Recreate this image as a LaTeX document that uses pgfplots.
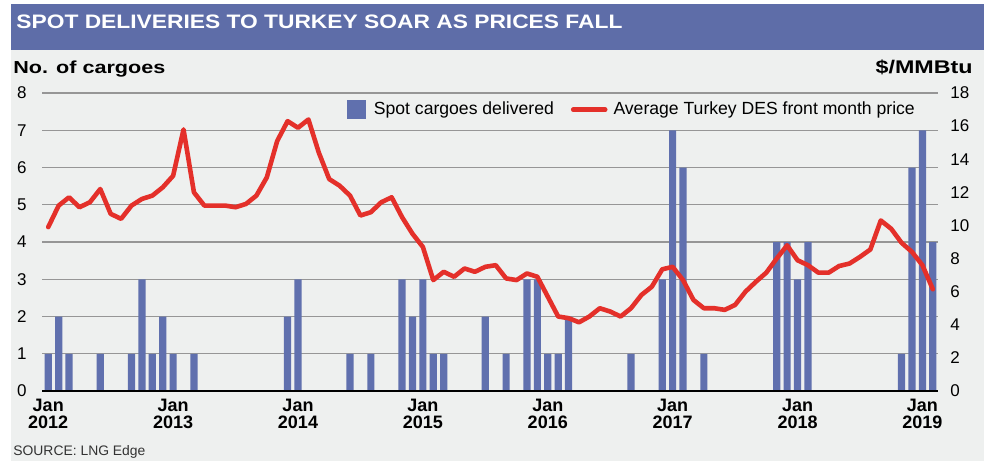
\documentclass[border=0pt]{standalone}
\usepackage{pgfplots}
\pgfplotsset{compat=1.18}
\usepackage{fontspec}
\setmainfont{Liberation Sans}
\definecolor{bandblue}{HTML}{5E6DA8}
\definecolor{barblue}{HTML}{6070AE}
\definecolor{linered}{HTML}{E4302A}
\definecolor{bggray}{HTML}{EEF0EF}
\definecolor{gridgray}{HTML}{969696}
\begin{document}
\begin{tikzpicture}
% background (1px = 0.5pt, origin at top-left, y downward negative)
\fill[white] (0pt,0pt) rectangle (492pt,-230.5pt);
\fill[bggray] (5.5pt,-25pt) rectangle (492pt,-230.5pt);
\fill[bandblue] (5.5pt,-2pt) rectangle (492pt,-25pt);
\node[anchor=base west, text=white, inner sep=0pt] at (8pt,-14.3pt) {\resizebox{303pt}{6.8pt}{\bfseries SPOT DELIVERIES TO TURKEY SOAR AS PRICES FALL}};
\node[anchor=base west, inner sep=0pt] at (6.5pt,-36.5pt) {\resizebox{76pt}{6.3pt}{\bfseries No. of cargoes}};
\node[anchor=base east, inner sep=0pt] at (486.5pt,-36.5pt) {\resizebox{48.5pt}{6.8pt}{\bfseries \$/MMBtu}};
\node[anchor=base west, inner sep=0pt, text=black!80] at (6.5pt,-227.5pt) {\resizebox{66pt}{5pt}{SOURCE: LNG Edge}};

\begin{axis}[
  at={(21pt,-195.5pt)}, anchor=south west,
  scale only axis, width=448pt, height=149pt,
  xmin=-0.6, xmax=85.5, ymin=0, ymax=8,
  ytick={0,1,...,8},
  xtick={0,12,24,36,48,60,72,84},
  xticklabels={Jan\\2012,Jan\\2013,Jan\\2014,Jan\\2015,Jan\\2016,Jan\\2017,Jan\\2018,Jan\\2019},
  axis line style={draw=none}, tick style={draw=none},
  ymajorgrids, grid style={gridgray, line width=0.6pt},
  /pgf/number format/assume math mode=true,
  every tick label/.append style={inner sep=0pt},
  yticklabel style={anchor=east, font=\fontsize{8.5}{9}\selectfont},
  yticklabel shift=7.5pt,
  xticklabel style={anchor=north, align=center, font=\fontsize{9}{8.6}\selectfont\bfseries},
  xticklabel shift=4pt,
]
\addplot[ybar, bar width=3.6pt, bar shift=0pt, fill=barblue, draw=none] coordinates {
(0,1) (1,2) (2,1) (5,1) (8,1) (9,3) (10,1) (11,2) (12,1) (14,1)
(23,2) (24,3) (29,1) (31,1) (34,3) (35,2) (36,3) (37,1) (38,1)
(42,2) (44,1) (46,3) (47,3) (48,1) (49,1) (50,2) (56,1)
(59,3) (60,7) (61,6) (63,1) (70,4) (71,4) (72,3) (73,4)
(82,1) (83,6) (84,7) (85,4)
};
\draw[black, line width=1.4pt] (rel axis cs:0,0) -- (rel axis cs:1,0);
\end{axis}

\begin{axis}[
  at={(21pt,-195.5pt)}, anchor=south west,
  scale only axis, width=448pt, height=149pt,
  xmin=-0.6, xmax=85.5, ymin=0, ymax=18,
  ytick={0,2,...,18}, xtick=\empty,
  axis line style={draw=none}, tick style={draw=none},
  yticklabel pos=right,
  /pgf/number format/assume math mode=true,
  every tick label/.append style={inner sep=0pt},
  yticklabel style={anchor=west, font=\fontsize{8.5}{9}\selectfont},
  yticklabel shift=6pt,
  legend style={at={(0.979,0.985)}, anchor=north east, draw=none, fill=none,
    inner sep=0pt, font=\fontsize{8.8}{9}\selectfont,
    /tikz/every even column/.append style={column sep=6.5pt}},
  legend columns=2,
]
\addlegendimage{legend image code/.code={\fill[barblue] (0pt,-4.5pt) rectangle (9pt,4.5pt); \path (11pt,0pt);}}
\addlegendentry{Spot cargoes delivered}
\addplot[linered, line width=2.3pt, line join=round, line cap=round, mark=none,
  legend image code/.code={\draw[linered, line width=2.3pt] (0pt,0pt) -- (16pt,0pt); \path (17pt,0pt);}] coordinates {
(0,9.9) (1,11.2) (2,11.7) (3,11.1) (4,11.4) (5,12.2) (6,10.7) (7,10.4) (8,11.2) (9,11.6)
(10,11.8) (11,12.3) (12,13.0) (13,15.8) (14,12.0) (15,11.2) (16,11.2) (17,11.2) (18,11.1) (19,11.3)
(20,11.8) (21,12.9) (22,15.1) (23,16.3) (24,15.9) (25,16.4) (26,14.4) (27,12.8) (28,12.4) (29,11.8)
(30,10.6) (31,10.8) (32,11.4) (33,11.7) (34,10.5) (35,9.5) (36,8.7) (37,6.7) (38,7.2) (39,6.9)
(40,7.4) (41,7.2) (42,7.5) (43,7.6) (44,6.8) (45,6.7) (46,7.1) (47,6.9) (48,5.7) (49,4.5)
(50,4.4) (51,4.15) (52,4.5) (53,5.0) (54,4.8) (55,4.5) (56,5.0) (57,5.8) (58,6.3) (59,7.35)
(60,7.5) (61,6.7) (62,5.5) (63,5.0) (64,5.0) (65,4.9) (66,5.2) (67,6.0) (68,6.6) (69,7.15)
(70,8.0) (71,8.8) (72,7.9) (73,7.6) (74,7.15) (75,7.15) (76,7.55) (77,7.7) (78,8.1) (79,8.55)
(80,10.3) (81,9.8) (82,8.95) (83,8.4) (84,7.6) (85,6.15)
};
\addlegendentry{Average Turkey DES front month price}
\end{axis}
\end{tikzpicture}
\end{document}
